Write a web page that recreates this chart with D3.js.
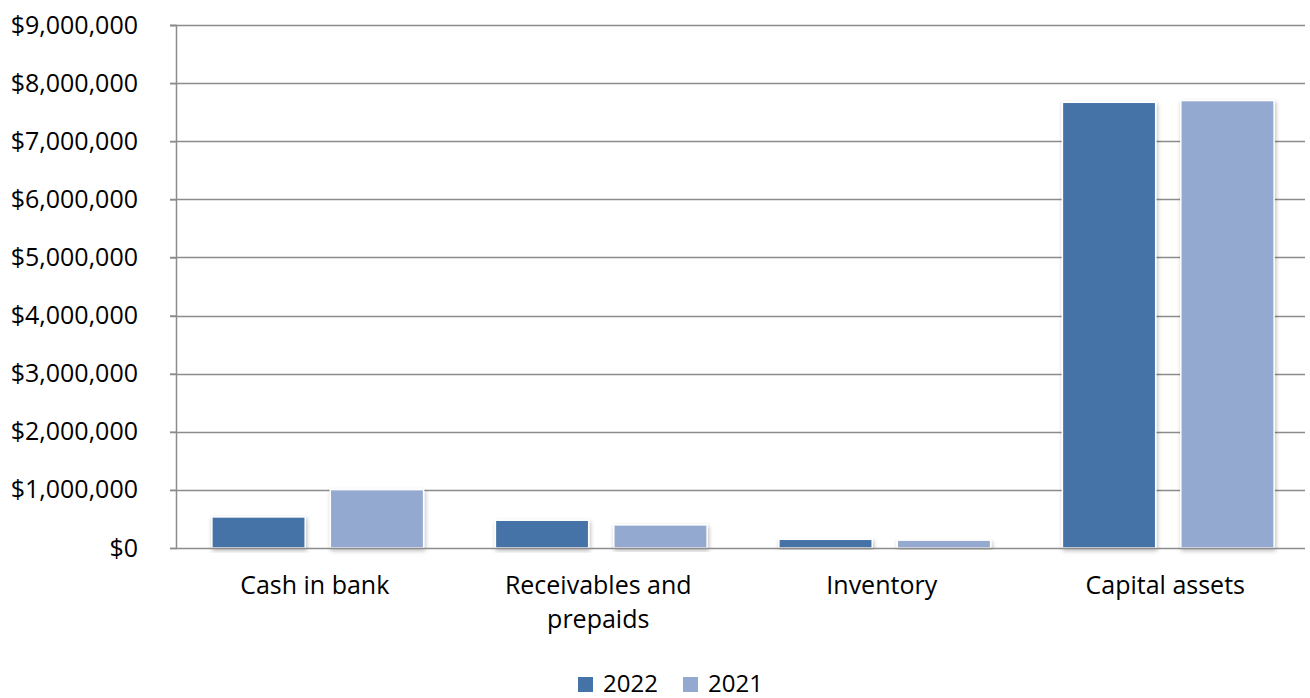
<!DOCTYPE html>
<html>
<head>
<meta charset="utf-8">
<script src="https://cdn.jsdelivr.net/npm/d3@7"></script>
<style>
  html, body { margin: 0; padding: 0; background: #fff; }
  svg { display: block; font-family: "Open Sans", "Noto Sans", sans-serif; }
</style>
</head>
<body>
<svg id="chart" width="1310" height="698"></svg>
<script>
// Asset categories and year-end balances
const categories = [["Cash in bank"], ["Receivables and", "prepaids"], ["Inventory"], ["Capital assets"]];
const seriesNames = ["2022", "2021"];
const values2022 = [535000, 478000, 150000, 7670000];
const values2021 = [1005000, 398000, 135000, 7700000];
const yTicks = [0, 1000000, 2000000, 3000000, 4000000, 5000000, 6000000, 7000000, 8000000, 9000000];
const colors = ["#4573a7", "#94a9cf"];

const svg = d3.select("#chart");
const plot = { left: 176, right: 1310, top: 25, bottom: 548 };

const defs = svg.append("defs");
const f = defs.append("filter").attr("id", "shadow")
  .attr("x", "-10%").attr("y", "-10%").attr("width", "125%").attr("height", "125%");
f.append("feDropShadow").attr("dx", 1).attr("dy", 2).attr("stdDeviation", 2)
  .attr("flood-color", "#000").attr("flood-opacity", 0.28);

const x0 = d3.scaleBand().domain(d3.range(categories.length))
  .range([plot.left, plot.right]).paddingInner(0).paddingOuter(0);
const x1 = d3.scaleBand().domain(seriesNames)
  .range([0, x0.bandwidth()]).paddingInner(0.212).paddingOuter(0.303);
const y = d3.scaleLinear().domain([0, 9000000]).range([plot.bottom, plot.top]);

const fmt = v => "$" + d3.format(",")(v);

// Horizontal gridlines
svg.append("g").selectAll("line").data(yTicks.filter(t => t > 0)).join("line")
  .attr("x1", plot.left - 6).attr("x2", plot.right - 5)
  .attr("y1", d => Math.round(y(d)) + 0.5).attr("y2", d => Math.round(y(d)) + 0.5)
  .attr("stroke", "#8c8c8c").attr("stroke-width", 1.5);

// Y axis
const yAxis = d3.axisLeft(y).tickValues(yTicks).tickFormat(fmt).tickSize(6).tickPadding(32);
const ya = svg.append("g").attr("transform", `translate(${plot.left},0)`).call(yAxis);
ya.select(".domain").attr("stroke", "#8c8c8c").attr("stroke-width", 1.5);
ya.selectAll(".tick line").attr("stroke", "#8c8c8c").attr("stroke-width", 1.5);
ya.selectAll(".tick text").attr("font-size", 25).attr("fill", "#000")
  .attr("font-family", "'Open Sans', sans-serif");

// Bars
const data = categories.map((c, i) => ({ i, vals: [values2022[i], values2021[i]] }));
const groups = svg.append("g").selectAll("g").data(data).join("g")
  .attr("transform", d => `translate(${x0(d.i)},0)`);
groups.selectAll("rect").data(d => d.vals.map((v, k) => ({ v, k }))).join("rect")
  .attr("x", d => x1(seriesNames[d.k]))
  .attr("width", x1.bandwidth())
  .attr("y", d => y(d.v))
  .attr("height", d => y(0) - y(d.v))
  .attr("fill", d => colors[d.k])
  .attr("stroke", "#fff").attr("stroke-width", 1.5)
  .attr("filter", "url(#shadow)");

// Baseline
svg.append("line").attr("x1", plot.left).attr("x2", plot.right - 5)
  .attr("y1", plot.bottom + 0.5).attr("y2", plot.bottom + 0.5)
  .attr("stroke", "#8c8c8c").attr("stroke-width", 1.5);

// Category labels
const xl = svg.append("g");
categories.forEach((lines, i) => {
  const cx = x0(i) + x0.bandwidth() / 2 - 3;
  const t = xl.append("text")
    .attr("x", cx).attr("y", 594)
    .attr("text-anchor", "middle").attr("font-size", 25).attr("fill", "#000");
  lines.forEach((ln, j) => t.append("tspan").attr("x", cx).attr("dy", j ? 34 : 0).text(ln));
});

// Legend
const legend = svg.append("g").attr("transform", "translate(578,692)");
const lx = [0, 105];
seriesNames.forEach((s, k) => {
  legend.append("rect").attr("x", lx[k]).attr("y", -15).attr("width", 15).attr("height", 15).attr("fill", colors[k]);
  legend.append("text").attr("x", lx[k] + 25).attr("y", 0).attr("font-size", 24).attr("fill", "#000").text(s);
});
</script>
</body>
</html>
